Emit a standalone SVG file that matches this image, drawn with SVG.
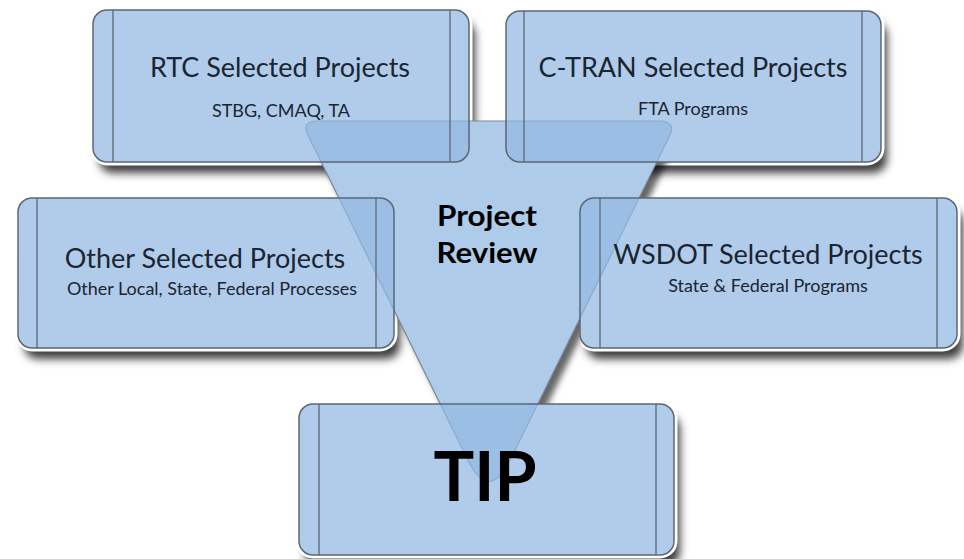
<svg xmlns="http://www.w3.org/2000/svg" width="964" height="559" viewBox="0 0 964 559">
  <defs>
    <filter id="outShadow" x="-10%" y="-10%" width="130%" height="140%">
      <feGaussianBlur in="SourceAlpha" stdDeviation="4" result="b"/>
      <feOffset in="b" dx="6" dy="11" result="o"/>
      <feFlood flood-color="#000" flood-opacity="0.75" result="f"/>
      <feComposite in="f" in2="o" operator="in" result="s"/>
      <feComposite in="s" in2="SourceAlpha" operator="out"/>
    </filter>
    <filter id="triShadow" x="-10%" y="-10%" width="130%" height="130%">
      <feGaussianBlur in="SourceAlpha" stdDeviation="3" result="b"/>
      <feOffset in="b" dx="6" dy="8" result="o"/>
      <feFlood flood-color="#000" flood-opacity="0.6" result="f"/>
      <feComposite in="f" in2="o" operator="in" result="s"/>
      <feComposite in="s" in2="SourceAlpha" operator="out"/>
    </filter>
    <mask id="noBoxes">
      <rect x="0" y="0" width="964" height="559" fill="#fff"/>
      <rect x="93" y="10" width="376" height="152" rx="14" fill="#000"/>
      <rect x="506" y="11" width="375" height="151" rx="14" fill="#000"/>
      <rect x="18" y="198" width="376" height="150" rx="14" fill="#000"/>
      <rect x="580" y="198" width="377" height="150" rx="14" fill="#000"/>
      <rect x="299" y="404" width="375" height="151" rx="14" fill="#000"/>
    </mask>
    <path id="triPath" d="M 318,121 L 659,121 Q 677,121 669.1,137.1 L 510.2,460 Q 489,503 467.8,460 L 308.9,137.1 Q 300,121 318,121 Z"/>
  </defs>
  <style>
    .sh { fill: #000; }
    .halo { fill: none; stroke: #ffffff; stroke-width: 7; }
    .body { fill: #92b8e2; fill-opacity: 0.72; stroke: #5c6774; stroke-width: 1.5; }
    .inner { stroke: #5c6774; stroke-width: 1.3; }
    .title { font-family: Lato, "Liberation Sans", sans-serif; font-size: 27px; fill: #1b2431; text-anchor: middle; }
    .sub { font-family: Lato, "Liberation Sans", sans-serif; font-size: 18px; fill: #1b2431; text-anchor: middle; }
    .bold { font-family: Lato, "Liberation Sans", sans-serif; font-weight: bold; fill: #000; text-anchor: middle; }
  </style>
  <rect x="0" y="0" width="964" height="559" fill="#ffffff"/>

  <!-- shadows and halos of the boxes -->
  <g id="box-shadows">
    <g filter="url(#outShadow)">
      <rect class="sh" x="93" y="10" width="376" height="152" rx="14"/>
      <rect class="sh" x="506" y="11" width="375" height="151" rx="14"/>
      <rect class="sh" x="18" y="198" width="376" height="150" rx="14"/>
      <rect class="sh" x="580" y="198" width="377" height="150" rx="14"/>
      <rect class="sh" x="299" y="404" width="375" height="151" rx="14"/>
    </g>
    <rect class="halo" x="93" y="10" width="376" height="152" rx="14"/>
    <rect class="halo" x="506" y="11" width="375" height="151" rx="14"/>
    <rect class="halo" x="18" y="198" width="376" height="150" rx="14"/>
    <rect class="halo" x="580" y="198" width="377" height="150" rx="14"/>
    <rect class="halo" x="299" y="404" width="375" height="151" rx="14"/>
  </g>

  <!-- Project Review triangle -->
  <g id="project-review">
    <g mask="url(#noBoxes)">
      <use href="#triPath" fill="#000" filter="url(#triShadow)"/>
    </g>
    <use href="#triPath" fill="#afcbea" stroke="#7a8898" stroke-width="1.2"/>
    <text class="bold" x="487" y="226" font-size="28" textLength="100" lengthAdjust="spacingAndGlyphs">Project</text>
    <text class="bold" x="487" y="263" font-size="28" textLength="101" lengthAdjust="spacingAndGlyphs">Review</text>
  </g>

  <g id="rtc">
    <rect class="body" x="93" y="10" width="376" height="152" rx="14"/>
    <line class="inner" x1="113" y1="10" x2="113" y2="162"/>
    <line class="inner" x1="450" y1="10" x2="450" y2="162"/>
    <text class="title" x="280" y="77">RTC Selected Projects</text>
    <text class="sub" x="281" y="117">STBG, CMAQ, TA</text>
  </g>

  <g id="ctran">
    <rect class="body" x="506" y="11" width="375" height="151" rx="14"/>
    <line class="inner" x1="524" y1="11" x2="524" y2="162"/>
    <line class="inner" x1="862" y1="11" x2="862" y2="162"/>
    <text class="title" x="693" y="77">C-TRAN Selected Projects</text>
    <text class="sub" x="693" y="115">FTA Programs</text>
  </g>

  <g id="other">
    <rect class="body" x="18" y="198" width="376" height="150" rx="14"/>
    <line class="inner" x1="37" y1="198" x2="37" y2="348"/>
    <line class="inner" x1="376" y1="198" x2="376" y2="348"/>
    <text class="title" x="205" y="268">Other Selected Projects</text>
    <text class="sub" x="212" y="295">Other Local, State, Federal Processes</text>
  </g>

  <g id="wsdot">
    <rect class="body" x="580" y="198" width="377" height="150" rx="14"/>
    <line class="inner" x1="600" y1="198" x2="600" y2="348"/>
    <line class="inner" x1="937" y1="198" x2="937" y2="348"/>
    <text class="title" x="768" y="264">WSDOT Selected Projects</text>
    <text class="sub" x="768" y="292">State &amp; Federal Programs</text>
  </g>

  <g id="tip">
    <rect class="body" x="299" y="404" width="375" height="151" rx="14"/>
    <line class="inner" x1="319" y1="404" x2="319" y2="555"/>
    <line class="inner" x1="656" y1="404" x2="656" y2="555"/>
    <text class="bold" x="485" y="501" font-size="68">TIP</text>
  </g>
</svg>
